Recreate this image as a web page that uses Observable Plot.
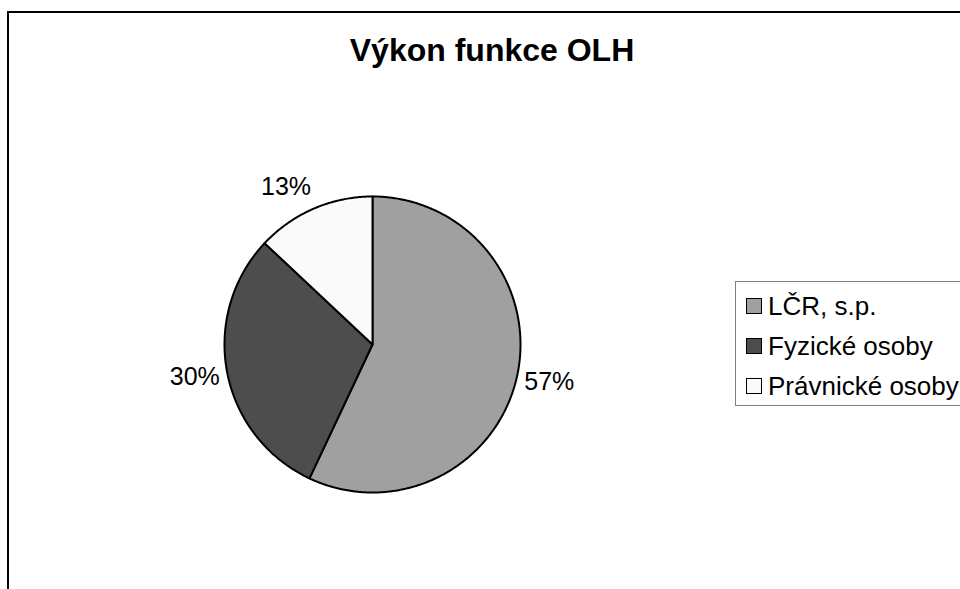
<!DOCTYPE html>
<html>
<head>
<meta charset="utf-8">
<script src="https://cdn.jsdelivr.net/npm/d3@7"></script>
<script src="https://cdn.jsdelivr.net/npm/@observablehq/plot@0.6"></script>
<style>
  html, body { margin: 0; padding: 0; background: #fff; }
  #wrap { position: relative; width: 960px; height: 589px; overflow: hidden; font-family: "Liberation Sans", Arial, sans-serif; }
  #frame { position: absolute; left: 7px; top: 11px; width: 1000px; height: 700px; border: 2px solid #000; box-sizing: border-box; }
  #title { position: absolute; left: 0; width: 984px; top: 32px; text-align: center; font-weight: bold; font-size: 32px; color: #000; }
  #chart { position: absolute; left: 0; top: 0; }
  #legend { position: absolute; left: 735px; top: 281px; width: 300px; height: 125px; border: 1px solid #808080; box-sizing: border-box; }
  .row { position: absolute; left: 10px; height: 30px; display: flex; align-items: center; font-size: 26px; color: #000; white-space: nowrap; }
  .sw { width: 14px; height: 14px; border: 1px solid #000; margin-right: 6px; flex: none; }
</style>
</head>
<body>
<div id="wrap">
  <div id="frame"></div>
  <div id="title"></div>
  <div id="chart"></div>
  <div id="legend"></div>
</div>
<script>
// Data
const titleText = "Výkon funkce OLH";
const categories = ["LČR, s.p.", "Fyzické osoby", "Právnické osoby"];
const values = [57, 30, 13];
const labels = ["57%", "30%", "13%"];
const colors = ["#a0a0a0", "#4d4d4d", "#fafafa"];

document.getElementById("title").textContent = titleText;

// Pie geometry (angles from 12 o'clock, clockwise)
const R = 148; // pixel radius used for conversion of label offsets
const pie = d3.pie().sort(null).value(d => d)(values);

const pts = [];
pie.forEach((s, i) => {
  const name = categories[i];
  pts.push({name, x: 0, y: 0});
  const n = Math.max(2, Math.ceil((s.endAngle - s.startAngle) / 0.01));
  for (let k = 0; k <= n; k++) {
    const a = s.startAngle + (s.endAngle - s.startAngle) * k / n;
    pts.push({name, x: Math.sin(a), y: Math.cos(a)});
  }
});

// Label placed outside the slice: box edge touches a point just beyond the rim
const labelData = pie.map((s, i) => {
  const a = (s.startAngle + s.endAngle) / 2;
  const px = Math.sin(a) * 156 + 24.5 * Math.sign(Math.sin(a));
  const py = Math.cos(a) * 160 + 12 * Math.cos(a);
  return {label: labels[i], x: px / R, y: py / R};
});

const chart = Plot.plot({
  width: 960,
  height: 589,
  margin: 0,
  style: {background: "transparent", overflow: "visible"},
  x: {domain: [-1, 1], range: [372 - R, 372 + R], axis: null},
  y: {domain: [-1, 1], range: [344 + R, 344 - R], axis: null},
  color: {domain: categories, range: colors},
  marks: [
    Plot.line(pts, {x: "x", y: "y", z: "name", fill: "name", stroke: "#000", strokeWidth: 2, curve: "linear-closed", strokeLinejoin: "round"}),
    Plot.text(labelData, {x: "x", y: "y", text: "label", fontSize: 25, fill: "#000", fontFamily: "Liberation Sans, Arial, sans-serif", textAnchor: "middle", lineAnchor: "middle"})
  ]
});
document.getElementById("chart").appendChild(chart);

// Legend
const leg = document.getElementById("legend");
categories.forEach((c, i) => {
  const row = document.createElement("div");
  row.className = "row";
  row.style.top = (9 + i * 40) + "px";
  const sw = document.createElement("div");
  sw.className = "sw";
  sw.style.background = colors[i];
  const t = document.createElement("span");
  t.textContent = c;
  row.appendChild(sw);
  row.appendChild(t);
  leg.appendChild(row);
});
</script>
</body>
</html>
